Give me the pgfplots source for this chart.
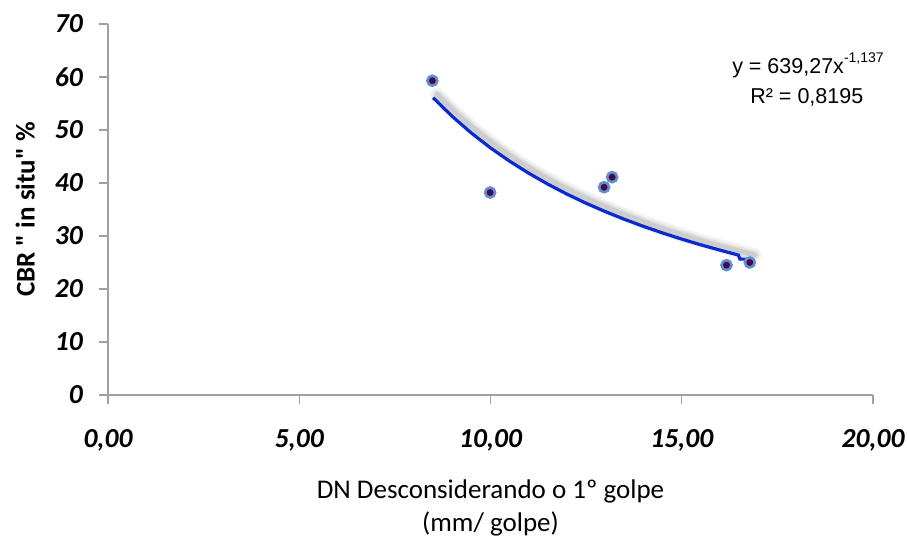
\documentclass[border=0pt]{standalone}
\usepackage{pgfplots}
\pgfplotsset{compat=1.18}
\usepackage{pgfplotstable}
\usepackage{fontspec}
\setmainfont{Carlito}[Ligatures=TeXOff]
\newfontfamily\arial{Liberation Sans}
\definecolor{axgray}{HTML}{A0A0A0}
\definecolor{trend}{HTML}{0A2AD0}
\definecolor{mkfill}{HTML}{4A0848}
\definecolor{mkdraw}{HTML}{5F8FD0}

\pgfplotstableread{
x y
8.48 59.3
9.99 38.2
12.97 39.2
13.18 41.1
16.17 24.5
16.78 25.0
}\points

\pgfplotstableread{
x y
8.5 56.10
9.0 52.57
9.5 49.43
10.0 46.63
10.5 44.12
11.0 41.85
11.5 39.78
12.0 37.90
12.5 36.18
13.0 34.61
13.5 33.15
14.0 31.81
14.5 30.57
15.0 29.41
15.5 28.33
16.0 27.33
16.5 26.39
16.8 25.85
}\shadow

\pgfplotstableread{
x y
8.5 56.10
9.0 52.57
9.5 49.43
10.0 46.63
10.5 44.12
11.0 41.85
11.5 39.78
12.0 37.90
12.5 36.18
13.0 34.61
13.5 33.15
14.0 31.81
14.5 30.57
15.0 29.41
15.5 28.33
16.0 27.33
16.48 26.40
16.52 25.65
16.82 25.60
}\trendline

\begin{document}
\begin{tikzpicture}[x=1pt,y=1pt]
\begin{axis}[
  at={(0,0)}, anchor=south west,
  scale only axis, width=765pt, height=371pt,
  xmin=0, xmax=20, ymin=0, ymax=70,
  clip=false,
  axis x line*=bottom, axis y line*=left,
  axis line style={axgray, line width=1.2pt},
  tick style={axgray, line width=1.2pt},
  tick align=outside, major tick length=9pt,
  xtick={0,5,10,15,20},
  xticklabels={{0,00},{5,00},{10,00},{15,00},{20,00}},
  ytick={0,10,20,30,40,50,60,70},
  /pgf/number format/assume math mode=true,
  ticklabel style={font=\fontsize{27.5}{31}\selectfont\bfseries\itshape, inner sep=0pt},
  yticklabel style={anchor=east},
  yticklabel shift=16pt,
  xticklabel style={anchor=north},
  xticklabel shift=25pt,
  xlabel={DN Desconsiderando o 1º golpe\\(mm/ golpe)},
  xlabel style={at={(axis description cs:0.5,0)}, anchor=north, yshift=-85pt, inner sep=0pt,
    align=center, font=\fontsize{27}{33}\selectfont},
  ylabel={CBR " in situ" \%},
  ylabel style={at={(axis description cs:-0.096,0.5)}, anchor=base, inner sep=0pt,
    font=\fontsize{27}{31}\selectfont\bfseries},
]
\addplot[no marks, black, opacity=0.05, line width=14pt, line cap=round, xshift=4pt, yshift=3pt] table {\shadow};
\addplot[no marks, black, opacity=0.07, line width=9pt, line cap=round, xshift=4pt, yshift=3pt] table {\shadow};
\addplot[no marks, black, opacity=0.09, line width=5pt, line cap=round, xshift=4pt, yshift=3pt] table {\shadow};
\addplot[no marks, trend, line width=3.2pt] table {\trendline};
\addplot[only marks, mark=*, mark size=5pt, mark options={fill=mkfill, draw=mkdraw, line width=2.6pt}] table {\points};
\node[anchor=base, inner sep=0pt, font=\arial\fontsize{21.5}{24}\selectfont] at (axis cs:18.3,60.75)
  {y = 639,27x\raisebox{0.48em}{\fontsize{14}{14}\selectfont -1,137}};
\node[anchor=base, inner sep=0pt, font=\arial\fontsize{21.5}{24}\selectfont] at (axis cs:18.27,55.04)
  {R² = 0,8195};
\end{axis}
\pgfresetboundingbox
\path[use as bounding box] (-108,-142) rectangle (799,395);
\end{tikzpicture}
\end{document}
